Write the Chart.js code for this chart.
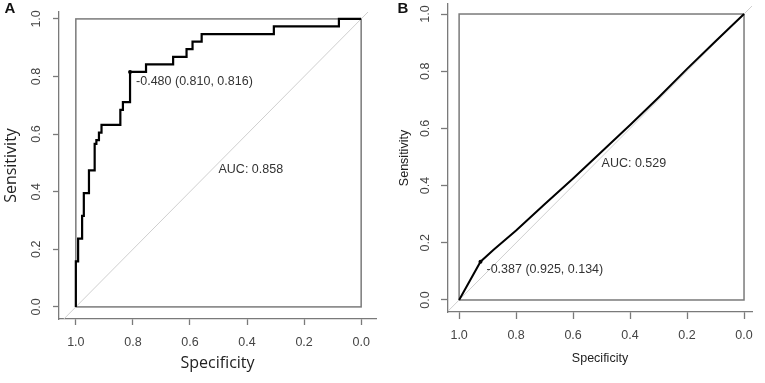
<!DOCTYPE html>
<html>
<head>
<meta charset="utf-8">
<script src="https://cdn.jsdelivr.net/npm/chart.js@4.4.1/dist/chart.umd.min.js"></script>
<style>
  html, body { margin: 0; padding: 0; background: #fff; }
  #wrap { position: relative; width: 765px; height: 383px; }
  canvas { position: absolute; top: 0; }
</style>
</head>
<body>
<div id="wrap">
  <canvas id="rocA" width="380" height="383" style="left:0"></canvas>
  <canvas id="rocB" width="385" height="383" style="left:380px"></canvas>
</div>
<script>
// tick values shared by both panels
var tickVals = [0, 0.2, 0.4, 0.6, 0.8, 1.0];

// panel A: ROC curve corners (specificity, sensitivity)
var specA = [1.000, 1.000, 0.992, 0.992, 0.978, 0.978, 0.972, 0.972, 0.954, 0.954,
             0.934, 0.934, 0.928, 0.928, 0.919, 0.919, 0.910, 0.910, 0.844, 0.844,
             0.835, 0.835, 0.810, 0.810, 0.754, 0.754, 0.659, 0.659, 0.612, 0.612,
             0.591, 0.591, 0.559, 0.559, 0.306, 0.306, 0.078, 0.078, 0.000];
var sensA = [0.000, 0.158, 0.158, 0.237, 0.237, 0.316, 0.316, 0.395, 0.395, 0.474,
             0.474, 0.566, 0.566, 0.579, 0.579, 0.605, 0.605, 0.632, 0.632, 0.684,
             0.684, 0.711, 0.711, 0.816, 0.816, 0.842, 0.842, 0.868, 0.868, 0.895,
             0.895, 0.921, 0.921, 0.947, 0.947, 0.974, 0.974, 1.000, 1.000];
var thrA = { label: '-0.480 (0.810, 0.816)', spec: 0.810, sens: 0.816 };
var aucA = 'AUC: 0.858';

// panel B
var specB = [1.000, 0.925, 0.880, 0.800, 0.700, 0.600, 0.500, 0.400, 0.300, 0.200, 0.100, 0.000];
var sensB = [0.000, 0.134, 0.175, 0.243, 0.335, 0.425, 0.518, 0.612, 0.708, 0.808, 0.905, 1.000];
var thrB = { label: '-0.387 (0.925, 0.134)', spec: 0.925, sens: 0.134 };
var aucB = 'AUC: 0.529';

var AXIS = '#7a7a7a';
var LAB = '#444';
var ARIAL = '"Liberation Sans", Arial, sans-serif';

function pts(xs, ys) {
  return xs.map(function (v, i) { return { x: v, y: ys[i] }; });
}

function rocChart(id, cfg) {
  var extras = {
    id: 'extras',
    beforeDatasetsDraw: function (chart) {
      var c = chart.ctx, x = chart.scales.x, y = chart.scales.y;
      c.save();
      c.strokeStyle = AXIS;
      c.lineWidth = 1.5;
      var l = x.getPixelForValue(1), r = x.getPixelForValue(0);
      var t = y.getPixelForValue(1), b = y.getPixelForValue(0);
      c.strokeRect(l, t, r - l, b - t);
      c.restore();
    },
    afterDatasetsDraw: function (chart) {
      var c = chart.ctx, x = chart.scales.x, y = chart.scales.y;
      c.save();
      c.fillStyle = '#333';
      c.font = '12.5px ' + ARIAL;
      c.textAlign = 'left';
      c.textBaseline = 'middle';
      c.fillText(cfg.thr.label, x.getPixelForValue(cfg.thr.spec) + 6,
                 y.getPixelForValue(cfg.thr.sens) + cfg.thrDy);
      c.textBaseline = 'top';
      c.fillText(cfg.auc, x.getPixelForValue(0.5), y.getPixelForValue(0.5));
      c.fillStyle = '#111';
      c.font = 'bold 15px ' + ARIAL;
      c.textAlign = 'center';
      c.textBaseline = 'middle';
      c.fillText(cfg.letter, cfg.letterX, cfg.letterY);
      c.restore();
    }
  };

  return new Chart(document.getElementById(id), {
    type: 'scatter',
    data: {
      datasets: [
        { data: pts([cfg.thr.spec], [cfg.thr.sens]), showLine: false, pointRadius: 2,
          pointBackgroundColor: '#000', pointBorderWidth: 0, order: 0 },
        { data: pts(cfg.spec, cfg.sens), showLine: true, borderColor: '#000',
          borderWidth: cfg.lw, pointRadius: 0, tension: 0, order: 1 },
        { data: [{ x: cfg.xMax, y: 1 - cfg.xMax }, { x: cfg.xMin, y: 1 - cfg.xMin }],
          showLine: true, borderColor: '#cfcfcf', borderWidth: 1, pointRadius: 0, order: 2 }
      ]
    },
    options: {
      responsive: false,
      animation: false,
      devicePixelRatio: 1,
      layout: { padding: cfg.pad },
      plugins: { legend: { display: false }, tooltip: { enabled: false } },
      scales: {
        x: {
          type: 'linear', reverse: true, min: cfg.xMin, max: cfg.xMax,
          afterBuildTicks: function (s) { s.ticks = tickVals.map(function (v) { return { value: v }; }); },
          afterFit: function (s) { s.height = cfg.xH; s.paddingLeft = 0; s.paddingRight = 0; },
          border: { display: true, color: AXIS, width: 1.3 },
          grid: { drawOnChartArea: false, drawTicks: true, tickLength: cfg.tl, color: AXIS, tickWidth: 1.3 },
          ticks: { color: LAB, font: { family: ARIAL, size: 12.5 }, padding: cfg.xPad, maxRotation: 0,
                   callback: function (v) { return v.toFixed(1); } },
          title: { display: true, text: 'Specificity', color: '#222',
                   font: { family: cfg.titleFont, size: cfg.titleSize },
                   padding: { top: 0, bottom: cfg.xTitlePad } }
        },
        y: {
          type: 'linear', min: cfg.yMin, max: cfg.yMax,
          afterBuildTicks: function (s) { s.ticks = tickVals.map(function (v) { return { value: v }; }); },
          afterFit: function (s) { s.width = cfg.yW; s.paddingTop = 0; s.paddingBottom = 0; },
          border: { display: true, color: AXIS, width: 1.3 },
          grid: { drawOnChartArea: false, drawTicks: true, tickLength: cfg.tl, color: AXIS, tickWidth: 1.3 },
          ticks: { color: LAB, font: { family: ARIAL, size: 12.5 }, padding: cfg.yPad,
                   minRotation: 90, maxRotation: 90, crossAlign: 'center',
                   callback: function (v) { return v.toFixed(1); } },
          title: { display: true, text: 'Sensitivity', color: '#222',
                   font: { family: cfg.titleFont, size: cfg.titleSize },
                   padding: { top: cfg.yTitlePad, bottom: 0 } }
        }
      }
    },
    plugins: [extras]
  });
}

rocChart('rocA', {
  spec: specA, sens: sensA, thr: thrA, auc: aucA, letter: 'A', letterX: 10, letterY: 9,
  xMin: -0.052, xMax: 1.059, yMin: -0.042, yMax: 1.024,
  pad: { left: 0, right: 2, top: 12, bottom: 0 }, xH: 64, yW: 59, tl: 6,
  xPad: 10, yPad: 8, lw: 2.2, thrDy: 10,
  titleFont: '"Open Sans", sans-serif', titleSize: 16, xTitlePad: 10, yTitlePad: 2
});

rocChart('rocB', {
  spec: specB, sens: sensB, thr: thrB, auc: aucB, letter: 'B', letterX: 23, letterY: 9,
  xMin: -0.028, xMax: 1.039, yMin: -0.042, yMax: 1.035,
  pad: { left: 0, right: 13, top: 4, bottom: 0 }, xH: 71, yW: 68, tl: 7,
  xPad: 9, yPad: 7, lw: 2, thrDy: 8,
  titleFont: ARIAL, titleSize: 12.5, xTitlePad: 17, yTitlePad: 17
});
</script>
</body>
</html>
